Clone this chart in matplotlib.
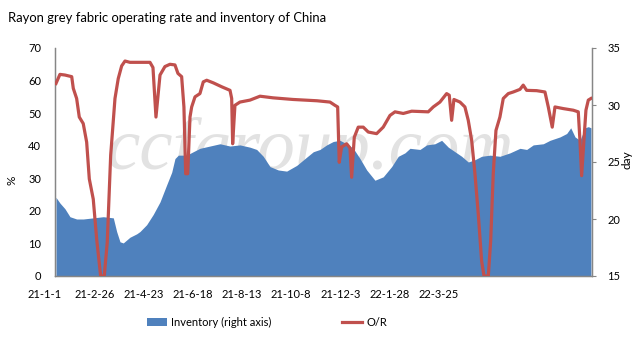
import matplotlib
matplotlib.use("Agg")
import matplotlib.pyplot as plt
from matplotlib.patches import Patch
from matplotlib.lines import Line2D
import matplotlib.transforms as mtransforms

# ---- data (x = days since 2021-01-01) ----
or_days = [12.5, 17, 22.7, 30.4, 32.2, 36, 39, 43.5, 47.4, 50.4, 54.9, 58.8, 63.3, 67.4,
           70.8, 74.7, 79.6, 83.3, 87.2, 91, 96.6, 113.7, 119.4, 122.8, 126.2, 130.8,
           136.4, 142.1, 147.8, 151.2, 155.4, 158, 160, 162.3, 164.9, 166.8, 170.6,
           176.2, 180, 183.9, 191.4, 200.9, 210.4, 212.3, 213.4, 216, 221.7, 233.1,
           244.5, 259.3, 282, 309.3, 324.1, 329.7, 332.8, 334.6, 337.3, 343, 346.8,
           348.7, 351.7, 356.2, 361.9, 367.6, 377.1, 384.6, 392.3, 398, 407.4, 417,
           435.8, 441.5, 449.1, 456.7, 459.7, 462.4, 465, 471.9, 477.5, 481.3, 485.2,
           488.9, 492.7, 496.5, 499.2, 504.1, 506.8, 509.7, 512.8, 517.3, 521.1, 526.8,
           532.5, 540.1, 543.8, 547.7, 559.1, 568.5, 572.3, 576.8, 579.9, 589.3, 600.7,
           606.4, 608.3, 610.2, 612.8, 615.1, 617.8, 620.8]
or_vals = [59.1, 61.9, 61.7, 61.2, 57.6, 54.5, 48.8, 46.8, 41.1, 29.8, 23.6, 11.3, 0, 0,
           10.3, 37, 54.5, 60.6, 64.5, 66, 65.6, 65.6, 65.6, 64, 48.8, 61.7,
           64.3, 65, 64.8, 62.2, 61.2, 51.9, 31.4, 31.4, 48.8, 51.9, 55,
           56, 59.6, 60.1, 59.3, 58.1, 57, 54.5, 40.6, 52.4, 53.4, 54,
           55.2, 54.7, 54.2, 53.8, 53.4, 52.4, 51.9, 34.9, 39.6, 40.6, 39.3,
           30.3, 42.6, 45.7, 45.7, 44.2, 43.7, 45.7, 49.3, 50.4, 49.9, 50.6,
           50.4, 51.9, 53.4, 56, 55.5, 47.8, 54.2, 53.4, 51.9, 47.8, 41.6,
           31.4, 19, 4.6, 0, 0, 10.8, 31.4, 44.7, 48.8, 54.5, 56,
           56.5, 57.3, 58.6, 57, 56.9, 56.5, 51.9, 45.7, 51.9, 51.4, 50.9,
           50.4, 41.6, 30.8, 41.6, 50.9, 54, 54.5]

inv_days = [12.5, 17, 22.7, 28.4, 36, 43.5, 54.9, 66.3, 77.7, 81.5, 85.3, 89, 96.6,
            104.3, 108, 115.6, 123.1, 130.8, 138.4, 144.1, 147.8, 151.6, 161.1, 168.6,
            176.2, 187.6, 199, 210.4, 221.7, 233.1, 240.7, 248.2, 255.8, 265.3, 274.8,
            286.2, 295.6, 305.1, 312.7, 320.3, 327.8, 335.4, 343, 350.5, 358.2, 365.8,
            375.2, 384.6, 394.2, 401.7, 409.3, 415, 426.4, 434, 443.4, 451, 458.6,
            466.2, 473.8, 481.3, 488.9, 496.5, 506, 517.3, 528.7, 540.1, 547.7, 555.2,
            566.6, 574.2, 585.6, 593.2, 597.8, 602.7, 608.3, 614, 617.8, 620.8]
inv_vals = [21.9, 21.4, 20.9, 20.2, 20.0, 20.0, 20.1, 20.2, 20.1, 18.9, 18.0, 17.9, 18.4,
            18.7, 18.9, 19.5, 20.4, 21.5, 23.0, 24.1, 25.3, 25.6, 25.6, 25.9,
            26.2, 26.4, 26.6, 26.4, 26.5, 26.3, 26.1, 25.5, 24.6, 24.3, 24.2,
            24.7, 25.3, 25.9, 26.1, 26.5, 26.8, 26.9, 26.6, 26.2, 25.3, 24.3,
            23.4, 23.7, 24.6, 25.5, 25.8, 26.2, 26.1, 26.5, 26.6, 26.9, 26.3,
            25.9, 25.5, 25.0, 25.2, 25.5, 25.6, 25.5, 25.8, 26.2, 26.1, 26.5,
            26.6, 26.9, 27.2, 27.5, 28.0, 27.2, 26.9, 28.0, 28.1, 28.0]

tick_days = [0, 56, 112, 168, 224, 280, 336, 392, 448]
tick_labels = ["21-1-1", "21-2-26", "21-4-23", "21-6-18", "21-8-13", "21-10-8",
               "21-12-3", "22-1-28", "22-3-25"]

title = "Rayon grey fabric operating rate and inventory of China"

FONT = "Lato"
BLUE = "#4F81BD"
RED = "#C0504D"
GRAY = "#868686"
FS = 8

fig = plt.figure(figsize=(6.44, 3.41), dpi=100)
ax = fig.add_axes([55/644, 1 - 276/341, (592-55)/644, (276-48)/341])
ax2 = ax.twinx()

# watermark behind the area
ax2.text(0.475, 0.47, "ccfgroup.com", transform=ax2.transAxes, ha="center", va="baseline",
         fontsize=54, family="Liberation Serif", style="italic", color="#e2e2e2", zorder=0.5)

ax2.fill_between(inv_days, 15, inv_vals, color=BLUE, lw=0, zorder=1)
ax2.set_ylim(15, 35)
ax2.set_yticks([15, 20, 25, 30, 35])

ax.set_zorder(ax2.get_zorder() + 1)
ax.patch.set_visible(False)
ax.plot(or_days, or_vals, color=RED, lw=2.3, solid_joinstyle="round", zorder=3)
ax.set_ylim(0, 70)
ax.set_yticks(range(0, 71, 10))
ax.set_xlim(11.4, 622)
ax.set_xticks([])

for a in (ax, ax2):
    a.spines["top"].set_visible(False)
    for s in ("left", "right", "bottom"):
        a.spines[s].set_color(GRAY)
        a.spines[s].set_linewidth(0.9)

ax.tick_params(axis="y", length=0, pad=10, labelsize=FS)
ax2.tick_params(axis="y", length=3, color=GRAY, pad=8, labelsize=FS)
for lab in ax.get_yticklabels() + ax2.get_yticklabels():
    lab.set_family(FONT)

trans = mtransforms.blended_transform_factory(ax.transData, ax.transAxes)
for d, l in zip(tick_days, tick_labels):
    ax.text(d, -0.055, l, transform=trans, ha="center", va="top", fontsize=FS,
            family=FONT, clip_on=False)

fig.text(12/644, 1 - 180/341, "%", rotation=90, ha="center", va="center",
         fontsize=8.5, family=FONT)
fig.text(627/644, 1 - 160/341, "day", rotation=90, ha="center", va="center",
         fontsize=8.5, family=FONT)

fig.text(8/644, 1 - 18/341, title, ha="left", va="center", fontsize=9.4, family=FONT)

handles = [Patch(facecolor=BLUE, edgecolor="none"), Line2D([], [], color=RED, lw=2.3)]
leg = fig.legend(handles, ["Inventory (right axis)", "O/R"], loc="center",
                 bbox_to_anchor=(267/644, 1 - 322/341), ncol=2, frameon=False,
                 handlelength=1.8, handletextpad=0.35, columnspacing=6.4,
                 prop={"family": FONT, "size": FS})

fig.savefig("out.png", dpi=100)
